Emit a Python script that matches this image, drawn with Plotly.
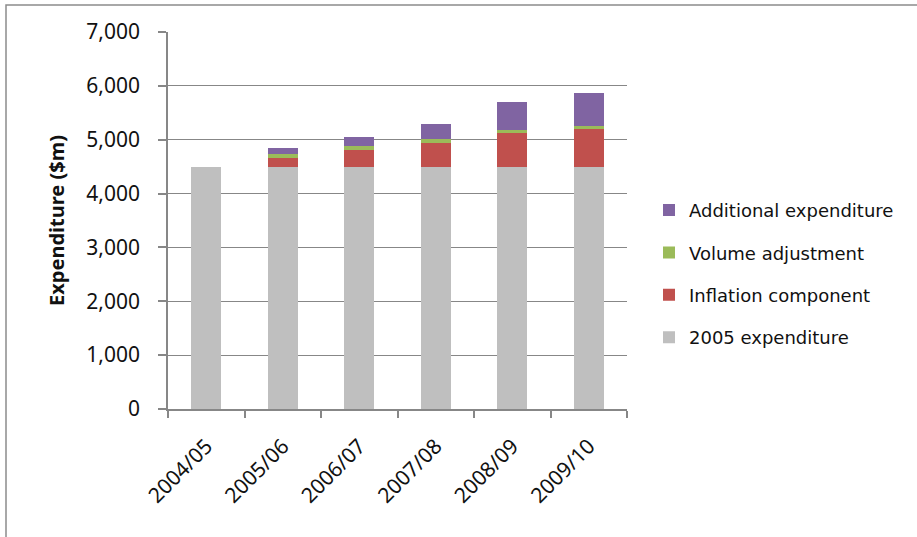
import plotly.graph_objects as go

# Financial years on the category axis
years = ["2004/05", "2005/06", "2006/07", "2007/08", "2008/09", "2009/10"]

# Expenditure components, $m
base_2005 = [4500, 4500, 4500, 4500, 4500, 4500]
inflation = [0, 160, 307, 437, 617, 707]
volume = [0, 80, 70, 69, 68, 52]
additional = [0, 100, 172, 283, 519, 611]

# (name, values, colour, legend rank) — stacked bottom to top
series = [
    ("2005 expenditure", base_2005, "#BFBFBF", 4),
    ("Inflation component", inflation, "#C0504D", 3),
    ("Volume adjustment", volume, "#9BBB59", 2),
    ("Additional expenditure", additional, "#8064A2", 1),
]

y_ticks = [0, 1000, 2000, 3000, 4000, 5000, 6000, 7000]

grid_col = "#878787"
font_fam = "Noto Sans, Open Sans, DejaVu Sans, sans-serif"

fig = go.Figure()
for name, vals, col, rank in series:
    fig.add_trace(go.Bar(
        x=years, y=vals, name=name, legendgroup=name, legendrank=rank,
        marker=dict(color=col, line=dict(width=0)),
    ))

# plot-area geometry in pixels
W, H = 917, 537
L, R, T, B = 168, 627, 32, 409.3
pw, ph = R - L, B - T


def px_x(p):
    return (p - L) / pw


def px_y(p):
    return (B - p) / ph


fig.update_layout(
    width=W, height=H,
    margin=dict(l=L, r=W - R, t=T, b=H - B, pad=0),
    paper_bgcolor="white", plot_bgcolor="white",
    barmode="stack", bargap=0.61,
    font=dict(family=font_fam, color="#111111"),
    showlegend=True,
    legend=dict(
        traceorder="grouped",
        x=px_x(649), xanchor="left",
        y=px_y(192), yanchor="top",
        font=dict(size=18, family="DejaVu Sans, sans-serif", color="#111111"),
        tracegroupgap=16,
        itemwidth=30,
        bgcolor="rgba(0,0,0,0)",
    ),
    xaxis=dict(
        type="category",
        showgrid=False,
        showline=True, linecolor=grid_col, linewidth=1.5,
        ticks="outside", tickson="boundaries", ticklen=7,
        tickcolor=grid_col, tickwidth=1.5,
        tickangle=-45,
        tickfont=dict(size=21, color="#111111"),
        ticklabelstandoff=15,
        range=[-0.5, 5.5],
    ),
    yaxis=dict(
        range=[0, 7000],
        tickvals=y_ticks,
        tickformat=",",
        showgrid=True, gridcolor=grid_col, gridwidth=1.4,
        zeroline=False,
        showline=True, linecolor=grid_col, linewidth=1.5,
        ticks="outside", ticklen=8, tickcolor=grid_col, tickwidth=1.5,
        tickfont=dict(size=21, color="#111111"),
        ticklabelstandoff=14,
        title=dict(
            text="<b>Expenditure ($m)</b>",
            font=dict(size=20, color="#111111"),
            standoff=16,
        ),
    ),
)

# outer chart frame
fig.add_shape(
    type="rect", xref="paper", yref="paper",
    x0=px_x(6), x1=px_x(960), y0=px_y(5), y1=px_y(600),
    line=dict(color="#8C8C8C", width=1.5), fillcolor="rgba(0,0,0,0)",
    layer="below",
)

# chart heading sitting above the frame
fig.add_annotation(
    xref="paper", yref="paper",
    x=px_x(168), y=px_y(4), xanchor="center", yanchor="bottom",
    text="<b>($ million)</b>", showarrow=False,
    font=dict(size=20, color="#111111"),
)

fig.write_html("out.html")
